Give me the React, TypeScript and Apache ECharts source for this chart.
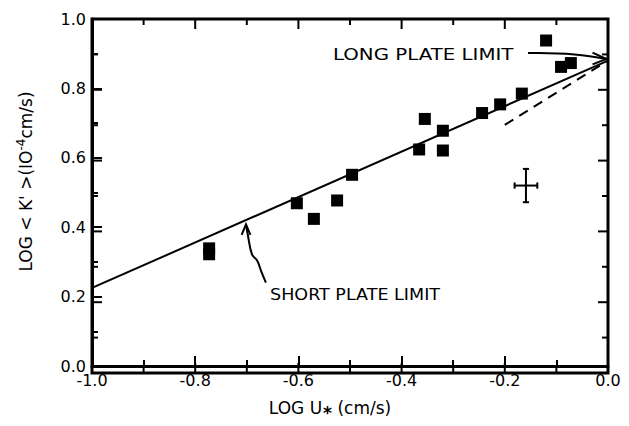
import React, { useEffect, useRef } from "react";
import * as echarts from "echarts";

// Data
const pointsX = [-0.773, -0.773, -0.603, -0.570, -0.525, -0.496, -0.366, -0.355, -0.320, -0.320, -0.244, -0.209, -0.167, -0.120, -0.091, -0.072];
const pointsY = [0.339, 0.322, 0.469, 0.424, 0.477, 0.551, 0.624, 0.712, 0.678, 0.621, 0.729, 0.754, 0.785, 0.938, 0.862, 0.873];

const fitLineX = [-1.0, 0.0];
const fitLineY = [0.225, 0.88];

const dashLineX = [-0.2, 0.0];
const dashLineY = [0.695, 0.88];

// error bar cross: center and half extents
const errCenter = [-0.159, 0.52];
const errHalf = [0.022, 0.048];

const xTickLabels = ["-1.0", "-0.8", "-0.6", "-0.4", "-0.2", "0.0"];
const yTickLabels = ["0.0", "0.2", "0.4", "0.6", "0.8", "1.0"];
const xMajor = [-1.0, -0.8, -0.6, -0.4, -0.2, 0.0];
const xMinor = [-0.9, -0.7, -0.5, -0.3, -0.1];
const yMajor = [0.0, 0.2, 0.4, 0.6, 0.8, 1.0];
const yMinor = [0.1, 0.3, 0.5, 0.7, 0.9];

const FONT = "DejaVu Sans";

const GRID = { left: 92, right: 21, top: 19, bottom: 53 };
const W = 629;
const H = 426;

// annotation / frame mapping (data -> pixel), matching the grid above
function px(x: number, y: number) {
  const pw = W - GRID.left - GRID.right;
  const ph = H - GRID.top - GRID.bottom;
  return [GRID.left + (x + 1) * pw, GRID.top + (1 - y) * ph];
}

export default function App() {
  const ref = useRef<HTMLDivElement>(null);

  useEffect(() => {
    if (!ref.current) return;
    const chart = echarts.init(ref.current, undefined, { renderer: "svg" });

    const scatterData = pointsX.map((x, i) => [x, pointsY[i]]);
    const fitData = fitLineX.map((x, i) => [x, fitLineY[i]]);
    const dashData = dashLineX.map((x, i) => [x, dashLineY[i]]);

    const [cx, cy] = errCenter;
    const [hx, hy] = errHalf;
    const capX = 0.006;
    const capY = 0.009;
    const errSegments = [
      [[cx, cy - hy], [cx, cy + hy]],
      [[cx - hx, cy], [cx + hx, cy]],
      [[cx - capX, cy + hy], [cx + capX, cy + hy]],
      [[cx - capX, cy - hy], [cx + capX, cy - hy]],
      [[cx - hx, cy - capY], [cx - hx, cy + capY]],
      [[cx + hx, cy - capY], [cx + hx, cy + capY]],
    ];

    const longText = px(-0.533, 0.898);
    const longStart = px(-0.155, 0.904);
    const longC1 = px(-0.08, 0.906);
    const longC2 = px(-0.04, 0.897);
    const longTip = px(-0.003, 0.887);
    const longB1 = px(-0.03, 0.905);
    const longB2 = px(-0.03, 0.872);

    const shortText = px(-0.655, 0.22);
    const shortTip = px(-0.7016, 0.42);
    const s1 = px(-0.698, 0.39);
    const s2 = px(-0.690, 0.335);
    const s3 = px(-0.680, 0.318);
    const s4 = px(-0.672, 0.287);
    const s5 = px(-0.663, 0.255);
    const sB1 = px(-0.710, 0.39);
    const sB2 = px(-0.693, 0.39);

    const ann = { stroke: "#000", lineWidth: 2, fill: "none" };
    const tickStyle = { stroke: "#000", lineWidth: 2 };

    // frame and inward ticks on all four sides
    const [fx0, fy0] = px(-1, 1);
    const [fx1, fy1] = px(0, 0);
    const frameTicks: any[] = [];
    const addX = (v: number, len: number) => {
      const [x] = px(v, 0);
      frameTicks.push({ type: "line", shape: { x1: x, y1: fy1, x2: x, y2: fy1 - len }, style: tickStyle });
      frameTicks.push({ type: "line", shape: { x1: x, y1: fy0, x2: x, y2: fy0 + len }, style: tickStyle });
    };
    const addY = (v: number, len: number) => {
      const [, y] = px(-1, v);
      frameTicks.push({ type: "line", shape: { x1: fx0, y1: y, x2: fx0 + len, y2: y }, style: tickStyle });
      frameTicks.push({ type: "line", shape: { x1: fx1, y1: y, x2: fx1 - len, y2: y }, style: tickStyle });
    };
    xMajor.forEach((v) => addX(v, 10));
    xMinor.forEach((v) => addX(v, 6));
    yMajor.forEach((v) => addY(v, 10));
    yMinor.forEach((v) => addY(v, 6));

    const option: any = {
      animation: false,
      grid: { ...GRID },
      xAxis: {
        type: "value",
        min: -1,
        max: 0,
        interval: 0.2,
        splitLine: { show: false },
        axisLine: { show: true, onZero: false, lineStyle: { color: "#000", width: 3 } },
        axisTick: { show: true, inside: true, length: 10, lineStyle: { color: "#000", width: 2 } },
        minorTick: { show: true, splitNumber: 2, length: 6, lineStyle: { color: "#000", width: 2 } },
        axisLabel: {
          margin: 6,
          color: "#000",
          fontFamily: FONT,
          fontSize: 16,
          formatter: (v: number) => xTickLabels[Math.round((v + 1) / 0.2)] ?? "",
        },
        name: "{a|LOG U}{sub|*}{a| (cm/s)}",
        nameLocation: "middle",
        nameGap: 28,
        nameTextStyle: {
          padding: [0, 40, 0, 0],
          rich: {
            a: { fontFamily: FONT, fontSize: 17, color: "#000" },
            sub: { fontFamily: FONT, fontSize: 17, fontWeight: "bold", color: "#000", padding: [10, 0, 0, 1] },
          },
        },
      },
      yAxis: {
        type: "value",
        min: 0,
        max: 1,
        interval: 0.2,
        splitLine: { show: false },
        axisLine: { show: true, onZero: false, lineStyle: { color: "#000", width: 3 } },
        axisTick: { show: true, inside: true, length: 10, lineStyle: { color: "#000", width: 2 } },
        minorTick: { show: true, splitNumber: 2, length: 6, lineStyle: { color: "#000", width: 2 } },
        axisLabel: {
          margin: 6,
          color: "#000",
          fontFamily: FONT,
          fontSize: 16,
          formatter: (v: number) => yTickLabels[Math.round(v / 0.2)] ?? "",
        },
        name: "{a|LOG < K' >(IO}{sup|-4}{a|cm/s)}",
        nameLocation: "middle",
        nameGap: 55,
        nameRotate: 90,
        nameTextStyle: {
          padding: [0, 0, 0, 22],
          rich: {
            a: { fontFamily: FONT, fontSize: 17, color: "#000" },
            sup: { fontFamily: FONT, fontSize: 12, color: "#000", padding: [0, 0, 10, 0] },
          },
        },
      },
      series: [
        {
          type: "line",
          data: fitData,
          symbol: "none",
          lineStyle: { color: "#000", width: 2 },
          z: 2,
        },
        {
          type: "line",
          data: dashData,
          symbol: "none",
          lineStyle: { color: "#000", width: 2, type: [10, 7] },
          z: 2,
        },
        ...errSegments.map((seg) => ({
          type: "line",
          data: seg,
          symbol: "none",
          lineStyle: { color: "#000", width: 2 },
          z: 2,
        })),
        {
          type: "scatter",
          data: scatterData,
          symbol: "rect",
          symbolSize: 12,
          itemStyle: { color: "#000", opacity: 1 },
          z: 3,
        },
      ],
      graphic: [
        {
          type: "rect",
          shape: { x: fx0, y: fy0, width: fx1 - fx0, height: fy1 - fy0 },
          style: { stroke: "#000", lineWidth: 3, fill: "none" },
        },
        ...frameTicks,
        {
          type: "text",
          x: longText[0],
          y: longText[1],
          scaleX: 1.32,
          style: { text: "LONG PLATE LIMIT", font: `15px "${FONT}"`, fill: "#000", verticalAlign: "middle" },
        },
        {
          type: "bezierCurve",
          shape: { x1: longStart[0], y1: longStart[1], cpx1: longC1[0], cpy1: longC1[1], cpx2: longC2[0], cpy2: longC2[1], x2: longTip[0], y2: longTip[1] },
          style: ann,
        },
        {
          type: "polyline",
          shape: { points: [longB1, longTip, longB2] },
          style: ann,
        },
        {
          type: "text",
          x: shortText[0],
          y: shortText[1],
          scaleX: 1.17,
          style: { text: "SHORT PLATE LIMIT", font: `15px "${FONT}"`, fill: "#000", verticalAlign: "middle" },
        },
        {
          type: "polyline",
          shape: { points: [shortTip, s1, s2, s3, s4, s5], smooth: 0.4 },
          style: ann,
        },
        {
          type: "polyline",
          shape: { points: [sB1, shortTip, sB2] },
          style: ann,
        },
      ],
    };

    chart.setOption(option);

    return () => chart.dispose();
  }, []);

  return <div ref={ref} style={{ width: 629, height: 426, margin: -8 }} />;
}
